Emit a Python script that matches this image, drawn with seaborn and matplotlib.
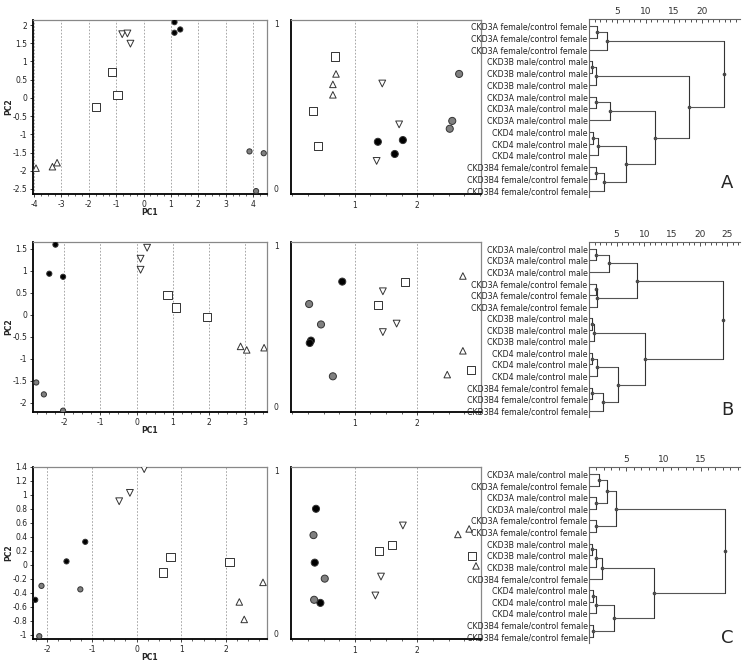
import numpy as np
import pandas as pd
import seaborn as sns
import matplotlib.pyplot as plt
from matplotlib.ticker import MultipleLocator, FuncFormatter

sns.set_style('white')
plt.rcParams['font.family'] = ['DejaVu Sans']

# ---- data -------------------------------------------------------------
# point order in every scatter: 3 black, 3 grey, 3 squares, 3 up, 3 down
groups = ['black'] * 3 + ['grey'] * 3 + ['square'] * 3 + ['up'] * 3 + ['down'] * 3

pc1_a = [1.13, 1.13, 1.34, 3.87, 4.11, 4.39, -1.15, -0.95, -1.74, -3.93, -3.33, -3.16, -0.78, -0.59, -0.48]
pc2_a = [2.08, 1.79, 1.88, -1.47, -2.56, -1.52, 0.72, 0.08, -0.25, -1.93, -1.89, -1.78, 1.75, 1.77, 1.49]
pc1_b = [-2.24, -2.41, -2.03, -2.77, -2.56, -2.03, 0.85, 1.08, 1.94, 2.87, 3.04, 3.52, 0.29, 0.11, 0.11]
pc2_b = [1.59, 0.93, 0.86, -1.54, -1.81, -2.18, 0.45, 0.16, -0.06, -0.72, -0.80, -0.75, 1.52, 1.27, 1.02]
pc1_c = [-1.57, -1.15, -2.27, -2.13, -1.26, -2.18, 0.76, 0.59, 2.08, 2.30, 2.41, 2.83, 0.17, -0.15, -0.39]
pc2_c = [0.05, 0.33, -0.50, -0.30, -0.35, -1.02, 0.11, -0.11, 0.04, -0.53, -0.78, -0.25, 1.37, 1.03, 0.91]

dim1_a = [1.37, 1.77, 1.64, 2.67, 2.56, 2.52, 0.68, 0.33, 0.41, 0.70, 0.65, 0.65, 1.44, 1.71, 1.35]
dim2_a = [0.30, 0.31, 0.23, 0.69, 0.42, 0.375, 0.79, 0.475, 0.275, 0.69, 0.63, 0.57, 0.635, 0.40, 0.19]
dim1_b = [0.80, 0.30, 0.28, 0.27, 0.46, 0.65, 1.81, 1.37, 2.86, 2.73, 2.73, 2.48, 1.45, 1.67, 1.45]
dim2_b = [0.767, 0.42, 0.406, 0.635, 0.515, 0.21, 0.767, 0.63, 0.245, 0.80, 0.36, 0.22, 0.71, 0.52, 0.47]
dim1_c = [0.38, 0.36, 0.45, 0.34, 0.52, 0.35, 1.60, 1.39, 2.88, 2.83, 2.65, 2.94, 1.77, 1.42, 1.33]
dim2_c = [0.757, 0.444, 0.21, 0.604, 0.351, 0.228, 0.546, 0.513, 0.48, 0.64, 0.608, 0.425, 0.66, 0.363, 0.253]

F3A = 'CKD3A female/control female'
M3A = 'CKD3A male/control male'
M3B = 'CKD3B male/control male'
M4 = 'CKD4 male/control male'
F3B4 = 'CKD3B4 female/control female'

leaves_a = [F3A, F3A, F3A, M3B, M3B, M3B, M3A, M3A, M3A, M4, M4, M4, F3B4, F3B4, F3B4]
leaves_b = [M3A, M3A, M3A, F3A, F3A, F3A, M3B, M3B, M3B, M4, M4, M4, F3B4, F3B4, F3B4]
leaves_c = [M3A, F3A, M3A, M3A, F3A, F3A, M3B, M3B, M3B, F3B4, M4, M4, M4, F3B4, F3B4]

# (child, child, height); leaves are 0..14, new clusters numbered from 15
merges_a = [(0, 1, 1.4), (15, 2, 3.1), (3, 4, 0.6), (17, 5, 1.2), (6, 7, 1.3), (19, 8, 3.8),
            (9, 10, 0.7), (21, 11, 1.6), (12, 13, 1.2), (23, 14, 2.7), (22, 24, 6.5),
            (20, 25, 11.6), (18, 26, 17.6), (16, 27, 23.8)]
merges_b = [(0, 1, 1.3), (15, 2, 3.7), (3, 4, 1.2), (17, 5, 1.45), (16, 18, 8.7), (6, 7, 0.6),
            (20, 8, 0.85), (9, 10, 0.6), (22, 11, 1.5), (12, 13, 0.6), (24, 14, 2.5),
            (23, 25, 5.2), (21, 26, 10.1), (19, 27, 24.3)]
merges_c = [(0, 1, 1.4), (2, 3, 0.95), (15, 16, 2.4), (4, 5, 1.0), (17, 18, 3.6), (6, 7, 0.35),
            (20, 8, 0.95), (21, 9, 1.75), (10, 11, 0.5), (23, 12, 0.95), (13, 14, 0.55),
            (24, 25, 3.3), (22, 26, 8.8), (19, 27, 18.25)]

# ---- styling ----------------------------------------------------------
W, H = 750, 669
markers = {'black': 'o', 'grey': 'o', 'square': 's', 'up': '^', 'down': 'v'}
palette = {'black': 'black', 'grey': '#808080', 'square': 'white', 'up': 'white', 'down': 'white'}
sizes_pca = {'black': 14, 'grey': 14, 'square': 36, 'up': 22, 'down': 24}
sizes_dim = {'black': 26, 'grey': 26, 'square': 34, 'up': 22, 'down': 24}
fmt = FuncFormatter(lambda v, p: f'{round(v, 6) + 0.0:g}')

fig = plt.figure(figsize=(W / 100, H / 100), dpi=100)


def add_ax(l, t, r, b):
    return fig.add_axes([l / W, 1 - b / H, (r - l) / W, (b - t) / H])


def scatter(ax, xs, ys, sizes):
    df = pd.DataFrame({'x': xs, 'y': ys, 'group': groups})
    sns.scatterplot(data=df, x='x', y='y', hue='group', style='group', size='group',
                    markers=markers, palette=palette, sizes=sizes, edgecolor='#333333',
                    linewidth=0.7, legend=False, ax=ax, zorder=3)


def frame(ax):
    for s in ['top', 'right']:
        ax.spines[s].set_color('#888888')
        ax.spines[s].set_linewidth(0.9)
    for s in ['left', 'bottom']:
        ax.spines[s].set_color('black')
        ax.spines[s].set_linewidth(1.3)


def pca_panel(ax, xs, ys, xlim, ylim, ystep, h):
    scatter(ax, xs, ys, sizes_pca)
    ax.set_xlim(xlim)
    ax.set_ylim(ylim)
    ax.xaxis.set_major_locator(MultipleLocator(1))
    ax.xaxis.set_minor_locator(MultipleLocator(0.25))
    ax.yaxis.set_major_locator(MultipleLocator(ystep))
    ax.xaxis.set_major_formatter(fmt)
    ax.yaxis.set_major_formatter(fmt)
    ax.tick_params(axis='both', which='major', labelsize=5.5, length=2.5, width=0.6,
                   pad=1.5, colors='#222222', bottom=True, left=True)
    ax.tick_params(axis='x', which='minor', length=1.5, width=0.5, bottom=True)
    ax.grid(axis='x', which='major', ls=(0, (2, 2)), color='#999999', lw=0.6)
    ax.set_xlabel('PC1', fontsize=5.5, fontweight='bold')
    ax.set_ylabel('PC2', fontsize=5.5, fontweight='bold')
    ax.xaxis.set_label_coords(0.5, -14 / h)
    ax.yaxis.set_label_coords(-20 / 234, 0.5)
    frame(ax)


def dim_panel(ax, xs, ys):
    scatter(ax, xs, ys, sizes_dim)
    ax.set_xlim(-0.02, 3.02)
    ax.set_ylim(0, 1)
    ax.set_xticks([1, 2])
    ax.xaxis.set_minor_locator(MultipleLocator(0.25))
    ax.set_yticks([0, 1])
    ax.tick_params(axis='x', which='major', labelsize=5.5, length=2, width=0.6, pad=3, bottom=True)
    ax.tick_params(axis='x', which='minor', length=1.5, width=0.5, bottom=True)
    ax.tick_params(axis='y', labelsize=5.5, length=0, pad=9)
    for lab in ax.get_yticklabels():
        lab.set_verticalalignment('top' if lab.get_text() == '1' else 'bottom')
    ax.grid(axis='x', which='major', ls=(0, (2, 2)), color='#999999', lw=0.6)
    ax.set_xlabel('')
    ax.set_ylabel('')
    frame(ax)


def dendro_panel(ax, leaves, merges, xmax, ticks):
    n = len(leaves)
    pos = {i: (0.0, float(i)) for i in range(n)}
    for k, (a, b, h) in enumerate(merges):
        ha, ya = pos[a]
        hb, yb = pos[b]
        ax.plot([ha, h], [ya, ya], color='#555555', lw=0.8)
        ax.plot([hb, h], [yb, yb], color='#555555', lw=0.8)
        ax.plot([h, h], [ya, yb], color='#333333', lw=0.8)
        ax.plot(h, (ya + yb) / 2, marker='o', ms=1.6, color='#444444')
        pos[n + k] = (h, (ya + yb) / 2)
    ax.set_xlim(0, xmax)
    ax.set_ylim(n - 0.45, -0.6)
    ax.set_yticks(range(n))
    ax.set_yticklabels(leaves, family=['Liberation Sans Narrow', 'DejaVu Sans'],
                       fontsize=5.7, color='#222222')
    ax.tick_params(axis='y', length=0, pad=1)
    ax.xaxis.tick_top()
    ax.set_xticks(ticks)
    ax.xaxis.set_minor_locator(MultipleLocator(1))
    ax.tick_params(axis='x', which='both', direction='in', top=True, width=0.6,
                   labelsize=6.5, colors='#333333', pad=2)
    ax.tick_params(axis='x', which='major', length=3)
    ax.tick_params(axis='x', which='minor', length=2)
    for s in ['bottom', 'right']:
        ax.spines[s].set_visible(False)
    for s in ['left', 'top']:
        ax.spines[s].set_color('#666666')
        ax.spines[s].set_linewidth(0.8)


rows = [
    dict(top=20, bot=194, pc=(pc1_a, pc2_a), xlim=(-4.04, 4.51), ylim=(-2.64, 2.14), ystep=0.5,
         dim=(dim1_a, dim2_a), dtop=19, dbot=197, leaves=leaves_a, merges=merges_a,
         xmax=26.7, ticks=[5, 10, 15, 20], letter='A', ly=183),
    dict(top=242, bot=412, pc=(pc1_b, pc2_b), xlim=(-2.86, 3.60), ylim=(-2.21, 1.65), ystep=0.5,
         dim=(dim1_b, dim2_b), dtop=242, dbot=417, leaves=leaves_b, merges=merges_b,
         xmax=27.3, ticks=[5, 10, 15, 20, 25], letter='B', ly=410),
    dict(top=467, bot=639, pc=(pc1_c, pc2_c), xlim=(-2.32, 2.92), ylim=(-1.06, 1.40), ystep=0.2,
         dim=(dim1_c, dim2_c), dtop=467, dbot=643, leaves=leaves_c, merges=merges_c,
         xmax=20.3, ticks=[5, 10, 15], letter='C', ly=638),
]

for r in rows:
    ax1 = add_ax(33, r['top'], 267, r['bot'])
    pca_panel(ax1, r['pc'][0], r['pc'][1], r['xlim'], r['ylim'], r['ystep'], r['bot'] - r['top'])
    ax2 = add_ax(291, r['top'], 481, r['bot'])
    dim_panel(ax2, r['dim'][0], r['dim'][1])
    ax3 = add_ax(589, r['dtop'], 740, r['dbot'])
    dendro_panel(ax3, r['leaves'], r['merges'], r['xmax'], r['ticks'])
    fig.text(727 / W, 1 - r['ly'] / H, r['letter'], ha='center', va='center', fontsize=13)

fig.savefig('out.png', dpi=100)
